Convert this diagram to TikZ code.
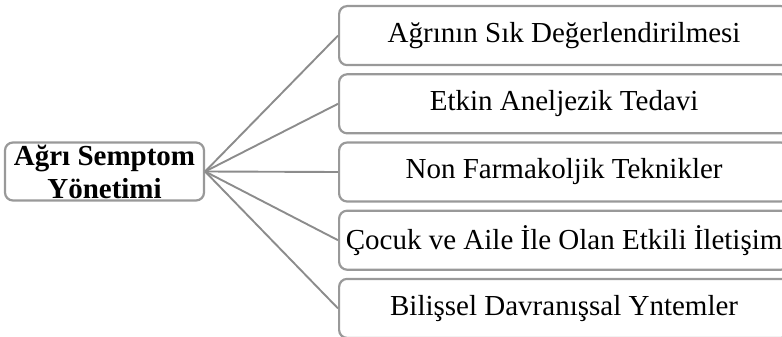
\documentclass[tikz,border=0pt]{standalone}
\usepackage{fontspec}
\setmainfont{Liberation Serif}
\usetikzlibrary{positioning}
\definecolor{boxgray}{HTML}{999999}
\definecolor{linkgray}{HTML}{8C8C8C}
\tikzset{
    item-box/.style = {draw=boxgray, fill=white, line width=2.2pt, rectangle, rounded corners=8pt, minimum width=450pt, minimum height=59pt, inner sep=0pt, font=\fontsize{29}{33}\selectfont},
    topic-box/.style = {draw=boxgray, fill=white, line width=2.2pt, rectangle, rounded corners=8pt, minimum width=199pt, minimum height=58pt, inner sep=0pt, align=center, font=\bfseries\fontsize{29}{33}\selectfont},
    link/.style = {draw=linkgray, line width=1.9pt},
}

\begin{document}
\begin{tikzpicture}
\useasboundingbox (0,0) rectangle (782pt,-337pt);
\clip (0,0) rectangle (782pt,-337pt);
\node [topic-box] (topic) at (104.5pt,-171.5pt) {Ağrı Semptom\\Yönetimi};
\node [item-box, anchor=north west] (item1) at (338pt,-5pt) {Ağrının Sık Değerlendirilmesi};
\node [item-box, below=7pt of item1] (item2) {Etkin Aneljezik Tedavi};
\node [item-box, below=7pt of item2] (item3) {Non Farmakoljik Teknikler};
\node [item-box, below=7pt of item3] (item4) {Çocuk ve Aile İle Olan Etkili İletişim};
\node [item-box, below=7pt of item4] (item5) {Bilişsel Davranışsal Yntemler};
\draw [link] (topic.east) -- (item1.west);
\draw [link] (topic.east) -- (item2.west);
\draw [link] (topic.east) -- (item3.west);
\draw [link] (topic.east) -- (item4.west);
\draw [link] (topic.east) -- (item5.west);
\end{tikzpicture}
\end{document}
